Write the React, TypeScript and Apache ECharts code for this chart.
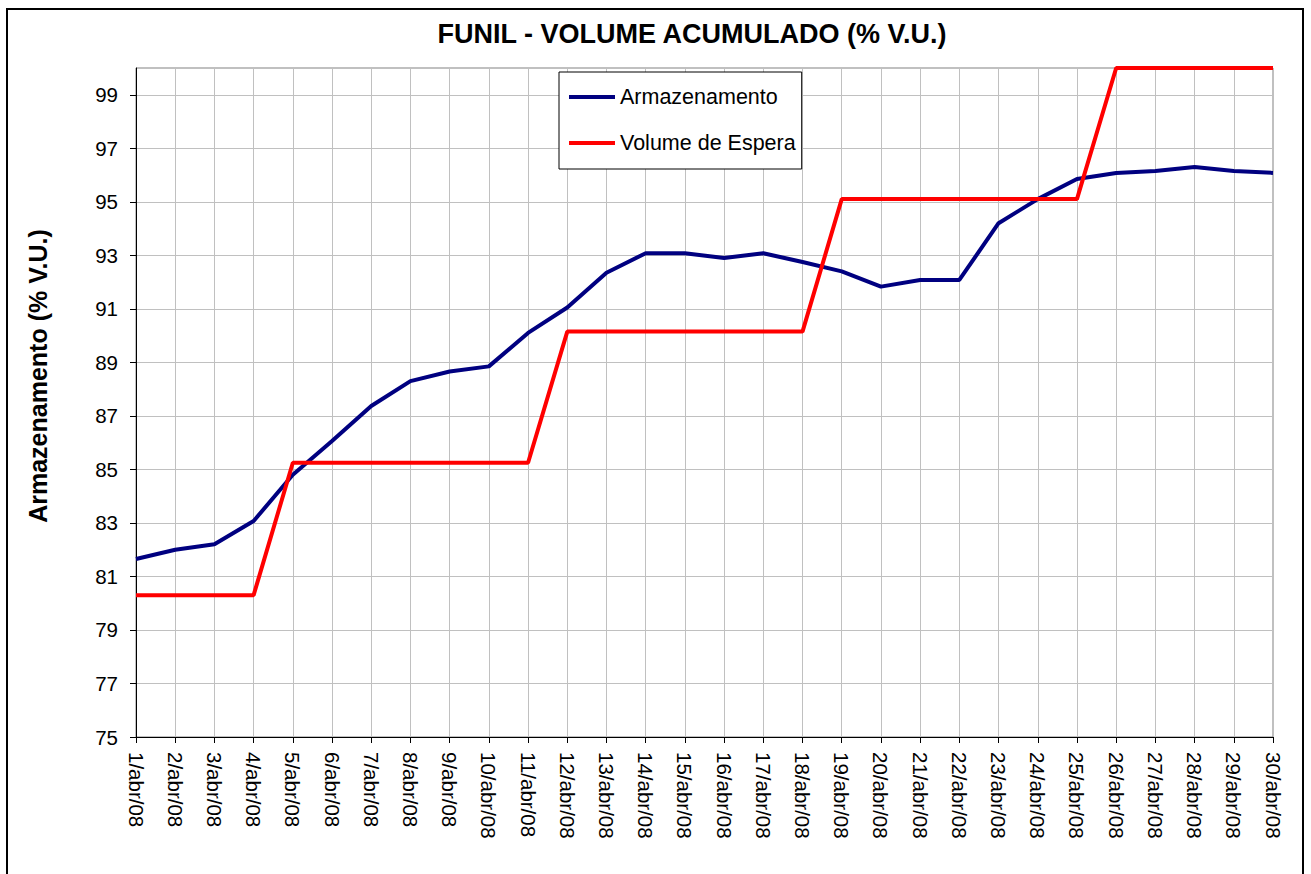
import React, { useEffect, useRef } from "react";
import * as echarts from "echarts";

const categories: string[] = [
  "1/abr/08", "2/abr/08", "3/abr/08", "4/abr/08", "5/abr/08", "6/abr/08",
  "7/abr/08", "8/abr/08", "9/abr/08", "10/abr/08", "11/abr/08", "12/abr/08",
  "13/abr/08", "14/abr/08", "15/abr/08", "16/abr/08", "17/abr/08", "18/abr/08",
  "19/abr/08", "20/abr/08", "21/abr/08", "22/abr/08", "23/abr/08", "24/abr/08",
  "25/abr/08", "26/abr/08", "27/abr/08", "28/abr/08", "29/abr/08", "30/abr/08",
];

const armazenamento: number[] = [
  81.65, 82.0, 82.2, 83.07, 84.8, 86.06, 87.37, 88.3, 88.66, 88.85,
  90.1, 91.05, 92.35, 93.08, 93.08, 92.9, 93.08, 92.75, 92.4, 91.83,
  92.08, 92.08, 94.2, 95.1, 95.85, 96.08, 96.15, 96.3, 96.15, 96.08,
];

const volumeEspera: number[] = [
  80.3, 80.3, 80.3, 80.3, 85.25, 85.25, 85.25, 85.25, 85.25, 85.25,
  85.25, 90.15, 90.15, 90.15, 90.15, 90.15, 90.15, 90.15, 95.1, 95.1,
  95.1, 95.1, 95.1, 95.1, 95.1, 100, 100, 100, 100, 100,
];

const seriesNames: string[] = ["Armazenamento", "Volume de Espera"];
const titleText = "FUNIL - VOLUME ACUMULADO (% V.U.)";
const yAxisTitle = "Armazenamento (% V.U.)";
const yMin = 75;
const yMax = 100;
const yStep = 2;

const FONT = 'Arial, "Liberation Sans", sans-serif';

export default function App() {
  const ref = useRef<HTMLDivElement>(null);

  useEffect(() => {
    if (!ref.current) return;
    const chart = echarts.init(ref.current, undefined, { renderer: "svg" });
    chart.setOption({
      animation: false,
      backgroundColor: "#ffffff",
      textStyle: { fontFamily: FONT },
      grid: {
        left: 136,
        top: 68,
        width: 1137,
        height: 669,
        show: true,
        borderColor: "#808080",
        borderWidth: 1,
        backgroundColor: "transparent",
      },
      legend: {
        orient: "vertical",
        left: 559,
        top: 72,
        data: seriesNames,
        icon: "rect",
        itemWidth: 46,
        itemHeight: 4,
        itemGap: 22,
        padding: [13, 6, 14, 10],
        backgroundColor: "#ffffff",
        borderColor: "#000000",
        borderWidth: 1,
        textStyle: { fontFamily: FONT, fontSize: 21.5, color: "#000", lineHeight: 24 },
      },
      xAxis: {
        type: "category",
        data: categories,
        boundaryGap: false,
        axisLine: { show: true, lineStyle: { color: "#000", width: 1 } },
        axisTick: { show: true, length: 6, interval: 0, lineStyle: { color: "#000" } },
        axisLabel: {
          interval: 0,
          rotate: -90,
          margin: 15,
          fontFamily: FONT,
          fontSize: 20.5,
          color: "#000",
        },
        splitLine: { show: true, interval: 0, lineStyle: { color: "#c0c0c0", width: 1 } },
      },
      yAxis: {
        type: "value",
        min: yMin,
        max: yMax,
        interval: yStep,
        axisLine: { show: true, lineStyle: { color: "#000", width: 1 } },
        axisTick: { show: true, length: 6, lineStyle: { color: "#000" } },
        axisLabel: {
          margin: 18,
          fontFamily: FONT,
          fontSize: 20.5,
          color: "#000",
          showMaxLabel: false,
          formatter: (v: number) => (v >= yMax ? "" : String(v)),
        },
        splitLine: { show: true, lineStyle: { color: "#c0c0c0", width: 1 } },
      },
      series: [
        {
          name: seriesNames[0],
          type: "line",
          data: armazenamento,
          symbol: "none",
          color: "#000080",
          lineStyle: { color: "#000080", width: 4 },
          z: 3,
        },
        {
          name: seriesNames[1],
          type: "line",
          data: volumeEspera,
          symbol: "none",
          color: "#ff0000",
          lineStyle: { color: "#ff0000", width: 4 },
          z: 4,
        },
      ],
      graphic: [
        {
          type: "rect",
          shape: { x: 7, y: 9, width: 1296, height: 900 },
          style: { fill: "none", stroke: "#000", lineWidth: 2 },
          silent: true,
        },
        {
          type: "text",
          x: 692,
          y: 34,
          style: {
            text: titleText,
            fontFamily: FONT,
            fontSize: 27,
            fontWeight: "bold",
            fill: "#000",
            align: "center",
            verticalAlign: "middle",
          },
        },
        {
          type: "text",
          x: 38,
          y: 376,
          rotation: Math.PI / 2,
          style: {
            text: yAxisTitle,
            fontFamily: FONT,
            fontSize: 25,
            fontWeight: "bold",
            fill: "#000",
            align: "center",
            verticalAlign: "middle",
          },
        },
      ],
    });
    return () => chart.dispose();
  }, []);

  return (
    <div
      ref={ref}
      style={{ position: "fixed", left: 0, top: 0, width: 1311, height: 874 }}
    />
  );
}
